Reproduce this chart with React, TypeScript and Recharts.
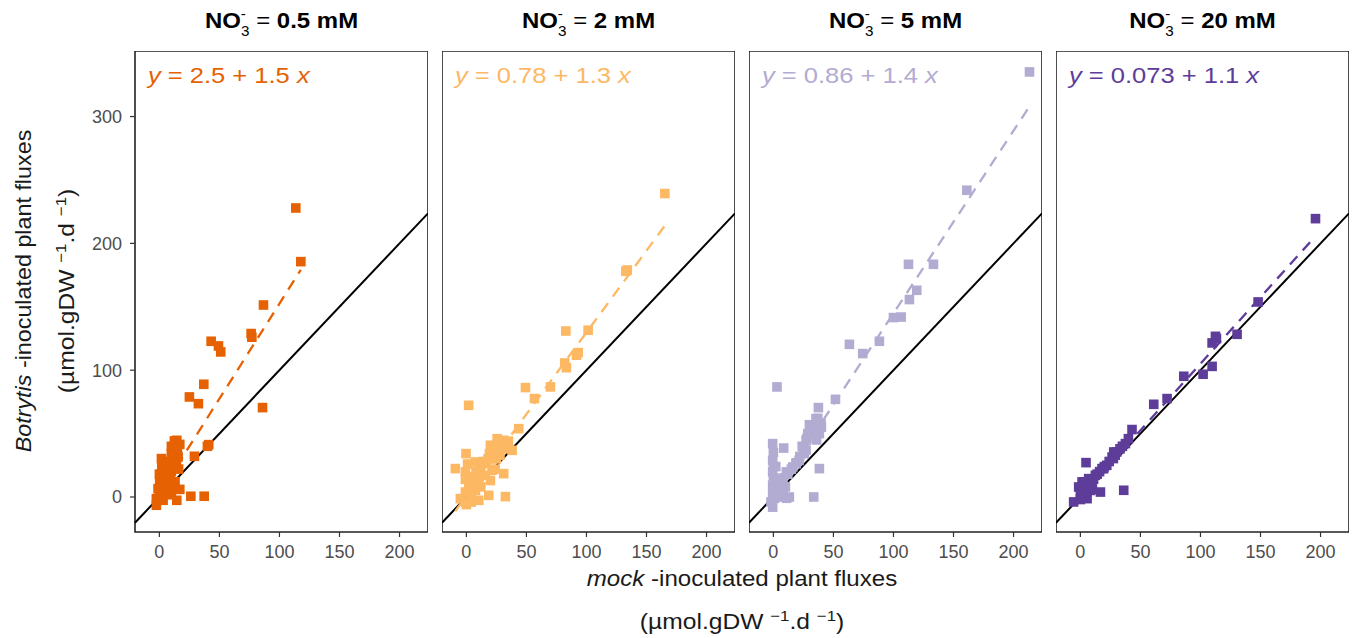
import React from 'react';
import {
  ScatterChart,
  Scatter,
  XAxis,
  YAxis,
  ReferenceLine,
  ReferenceArea,
} from 'recharts';

// NO3- concentrations, one panel each
const PANEL_LABELS = ['0.5 mM', '2 mM', '5 mM', '20 mM'];
const COLORS = ['#E66101', '#FDB863', '#B2ABD2', '#5E3C99'];
const EQUATIONS = ['2.5 + 1.5', '0.78 + 1.3', '0.86 + 1.4', '0.073 + 1.1'];
// fitted line as drawn (intercept, slope)
const FIT_INTERCEPTS = [2.5, 0.78, 0.86, 0.073];
const FIT_SLOPES = [1.5, 1.29, 1.44, 1.05];

const X_TICKS = [0, 50, 100, 150, 200];
const Y_TICKS = [0, 100, 200, 300];
const X_DOMAIN: [number, number] = [-20.3, 223.7];
const Y_DOMAIN: [number, number] = [-27.6, 351.7];

// [mock, Botrytis] fluxes
const FLUX_05: [number, number][] = [
  [-2.5, -6.5], [-2.5, -1.3], [3.1, -2.6], [14.5, -2.6], [26.2, 0.6], [37.3, 0.6],
  [6.9, 1.8], [2, 2], [-1.1, 6.6], [4.5, 7.9], [12.8, 7.9], [17, 6], [0.3, 13.1],
  [8.7, 13.1], [6, 10], [4.5, 17.1], [10, 20], [8.7, 23.7], [14.2, 26.3], [5, 25],
  [1.7, 30.3], [10, 34.2], [15.6, 31.6], [12, 38], [29.2, 32.1], [12.5, 44.2],
  [17, 41.5], [14.5, 44.7], [41.1, 41.3], [40, 40], [25, 78.9], [32.5, 73.6],
  [37, 88.9], [43.1, 122.8], [49.2, 119.1], [51.1, 114.4], [76.4, 128.9], [77, 126],
  [85.9, 70.5], [86.7, 151.4], [113.6, 227.9], [117.8, 185.6],
  [0, 0], [3, 4], [7, 6], [10, 3], [1, 10], [5, 12], [9, 16], [3, 20], [7, 28],
  [11, 30], [13, 35], [10, 40], [15, 38], [16, 22], [13, 12], [0, 18], [2, 24],
];

const FLUX_2: [number, number][] = [
  [165.3, 239.3], [132.8, 178], [134, 179], [82.8, 130.9], [101.4, 131.5], [93.1, 113.9],
  [91.7, 111.8], [81.9, 105.7], [83.3, 102], [49.2, 86.3], [70, 86.8], [56.7, 77.6],
  [1.9, 72.3], [43.6, 53.9], [25.6, 46], [31.1, 44.7], [20, 40.8], [38.1, 36.8],
  [19.2, 34.2], [33.6, 38.1], [-0.3, 34.2], [7.5, 27.6], [-9.2, 22.4], [-0.8, 19.8],
  [15.8, 26.3], [21.4, 21.1], [31.1, 18.4], [15.8, 17.1], [-0.8, 13.9], [10.3, 12.6],
  [-0.8, 3.9], [7.5, 5.2], [18.6, 1.3], [-0.8, -3.9], [10.3, -2.6], [32.5, 0.3],
  [-5, -1.3], [3.3, 1.3], [2, 8], [5, 16], [12, 22], [25, 30], [28, 42], [0, -6],
  [5, 10], [8, 20], [14, 28], [18, 30], [22, 35], [26, 38], [30, 40], [35, 44],
  [28, 33], [12, 8], [4, -4], [20, 13], [24, 22], [1, 26], [4, 0],
];

const FLUX_5: [number, number][] = [
  [213.3, 335.2], [161.1, 241.9], [112.5, 183.5], [133.3, 183.5], [119.4, 163],
  [113.3, 155.7], [100, 141.5], [106.4, 141.9], [63.3, 120.4], [88.3, 122.8],
  [74.4, 113.1], [3, 86.8], [51.7, 77], [37.5, 70.5], [35.5, 61.8], [39.7, 58],
  [32.8, 55.2], [38.3, 50], [28.6, 50], [27.2, 44.7], [-0.6, 42.1], [8.6, 38.6],
  [25.8, 34.2], [-0.6, 28.9], [21.4, 28.9], [16.1, 23.7], [38.3, 22.4], [-0.6, 19.8],
  [10.8, 19.8], [3.6, 13.2], [-0.6, 9.3], [10, 8], [-0.6, 2.7], [13.3, 0], [6.4, 0],
  [-2, -3.9], [-0.6, -8], [33.6, 0], [30, 57], [27.2, 37], [5, 5], [2, 24], [8, 15],
  [18.9, 26.3], [36, 45], [24, 40],
  [0, 35], [0, 24], [0, 15], [0, 6], [1, -1], [4, 8], [7, 12], [12, 18], [15, 22],
  [19, 27], [22, 32], [25, 38], [28, 46], [31, 52], [34, 56], [37, 62], [40, 55],
  [35, 50], [3, 2], [8, 3], [11, -1],
];

const FLUX_20: [number, number][] = [
  [195.8, 219.5], [148, 153.8], [130.5, 128.3], [112.5, 126.7], [109.7, 121.5],
  [113.3, 125], [109.7, 103], [102.2, 96.8], [86.1, 95.2], [72.2, 77.6], [61.1, 73.1],
  [43, 53.2], [37.5, 42.1], [30.3, 35.5], [27.8, 35.5], [26.4, 31.5], [27.5, 30.3],
  [4.7, 27.1], [19.4, 22.4], [18, 22.4], [12.5, 17.1], [6.9, 14.5], [1.4, 11.9],
  [-1.4, 7.9], [9.7, 9.2], [2.8, 2.6], [16.7, 3.9], [36.1, 5.3], [-5.6, -3.9],
  [5.6, -1.3], [8.3, 5.2], [35, 40], [22, 25], [0, 2], [3, 8],
  [2, 5], [5, 8], [8, 12], [11, 14], [14, 18], [16, 20], [20, 24], [24, 28], [29, 33],
  [33, 38], [40, 46], [0, -2], [4, 4], [10, 6], [3, 12],
];

const PANELS = [FLUX_05, FLUX_2, FLUX_5, FLUX_20];

const FONT = '"Liberation Sans", Arial, Helvetica, sans-serif';
const PLOT_LEFT = 135;
const PLOT_STEP = 307;
const PLOT_TOP = 51;
const PLOT_W = 293;
const PLOT_H = 481;
const Y_AXIS_W = 60;
const X_AXIS_H = 40;
const MARK = 9.6;

const tickStyle = { fill: '#4D4D4D', fontSize: 18, fontFamily: FONT };

function Panel({ index }: { index: number }) {
  const color = COLORS[index];
  const data = PANELS[index].map(([x, y]) => ({ x, y }));
  const xs = data.map((d) => d.x);
  const x0 = Math.min(...xs);
  const x1 = Math.max(...xs);
  const a = FIT_INTERCEPTS[index];
  const b = FIT_SLOPES[index];
  const first = index === 0;

  return (
    <div
      style={{
        position: 'absolute',
        left: PLOT_LEFT + index * PLOT_STEP - (first ? Y_AXIS_W : 0),
        top: PLOT_TOP,
      }}
    >
      <ScatterChart
        width={PLOT_W + (first ? Y_AXIS_W : 0)}
        height={PLOT_H + X_AXIS_H}
        margin={{ top: 0, right: 0, bottom: 0, left: 0 }}
      >
        <XAxis
          type="number"
          dataKey="x"
          domain={X_DOMAIN}
          ticks={X_TICKS}
          allowDataOverflow
          height={X_AXIS_H}
          axisLine={false}
          tickSize={5}
          tickMargin={8}
          tickLine={{ stroke: '#333333', strokeWidth: 1.2 }}
          tick={tickStyle}
        />
        <YAxis
          type="number"
          dataKey="y"
          domain={Y_DOMAIN}
          ticks={Y_TICKS}
          allowDataOverflow
          hide={!first}
          width={Y_AXIS_W}
          axisLine={false}
          tickSize={5}
          tickMargin={8}
          tickLine={{ stroke: '#333333', strokeWidth: 1.2 }}
          tick={tickStyle}
        />
        <Scatter
          data={data}
          isAnimationActive={false}
          shape={(p: any) => (
            <rect x={p.cx - MARK / 2} y={p.cy - MARK / 2} width={MARK} height={MARK} fill={color} />
          )}
        />
        <ReferenceLine
          segment={[
            { x: X_DOMAIN[0], y: X_DOMAIN[0] },
            { x: X_DOMAIN[1], y: X_DOMAIN[1] },
          ]}
          stroke="#000000"
          strokeWidth={2}
          ifOverflow="visible"
        />
        <ReferenceLine
          segment={[
            { x: x0, y: a + b * x0 },
            { x: x1, y: a + b * x1 },
          ]}
          stroke={color}
          strokeWidth={2.3}
          strokeDasharray="11 8"
          ifOverflow="visible"
        />
        <ReferenceArea
          x1={X_DOMAIN[0]}
          x2={X_DOMAIN[1]}
          y1={Y_DOMAIN[0]}
          y2={Y_DOMAIN[1]}
          fill="none"
          fillOpacity={0}
          stroke="#222222"
          strokeWidth={1.6}
          ifOverflow="visible"
        />
      </ScatterChart>
    </div>
  );
}

// R's plotmath text runs wider than Arial metrics, so stretch horizontally
const place = (x: number, y: number, sx: number, rotate = false) =>
  rotate
    ? `translate(${x},${y}) rotate(-90) scale(${sx},1)`
    : `translate(${x},${y}) scale(${sx},1)`;

export default function App() {
  const unit = (x: number, y: number, rotate: boolean) => (
    <text transform={place(x, y, 1.12, rotate)} textAnchor="middle" fontSize={22} fill="#1a1a1a">
      <tspan>(µmol.gDW </tspan>
      <tspan dy={-8} fontSize={15}>−1</tspan>
      <tspan dy={8}>.d </tspan>
      <tspan dy={-8} fontSize={15}>−1</tspan>
      <tspan dy={8}>)</tspan>
    </text>
  );

  return (
    <div
      style={{
        position: 'fixed',
        left: 0,
        top: 0,
        width: 1352,
        height: 638,
        background: '#ffffff',
        fontFamily: FONT,
      }}
    >
      {PANEL_LABELS.map((_, i) => (
        <Panel key={i} index={i} />
      ))}
      <svg
        width={1352}
        height={638}
        style={{ position: 'absolute', left: 0, top: 0, pointerEvents: 'none' }}
        fontFamily={FONT}
      >
        {PANEL_LABELS.map((label, i) => {
          const cx = PLOT_LEFT + i * PLOT_STEP + PLOT_W / 2;
          return (
            <g key={label}>
              <text
                transform={place(cx, 28, 1.09)}
                textAnchor="middle"
                fontSize={22}
                fontWeight="bold"
                fill="#000"
              >
                <tspan>NO</tspan>
                <tspan dy={-9} fontSize={14} fontWeight="normal">-</tspan>
                <tspan dx={-4.5} dy={17} fontSize={14} fontWeight="normal">3</tspan>
                <tspan dy={-8} fontWeight="normal"> = </tspan>
                <tspan>{label}</tspan>
              </text>
              <text
                transform={place(PLOT_LEFT + i * PLOT_STEP + 13, 83, 1.16)}
                fontSize={22}
                fill={COLORS[i]}
              >
                <tspan fontStyle="italic">y</tspan>
                <tspan> = {EQUATIONS[i]} </tspan>
                <tspan fontStyle="italic">x</tspan>
              </text>
            </g>
          );
        })}
        <text transform={place(30.5, 291, 1.06, true)} textAnchor="middle" fontSize={22} fill="#1a1a1a">
          <tspan fontStyle="italic">Botrytis</tspan>
          <tspan> -inoculated plant fluxes</tspan>
        </text>
        {unit(73.5, 291, true)}
        <text transform={place(742, 586, 1.095)} textAnchor="middle" fontSize={22} fill="#1a1a1a">
          <tspan fontStyle="italic">mock</tspan>
          <tspan> -inoculated plant fluxes</tspan>
        </text>
        {unit(742, 629, false)}
      </svg>
    </div>
  );
}
